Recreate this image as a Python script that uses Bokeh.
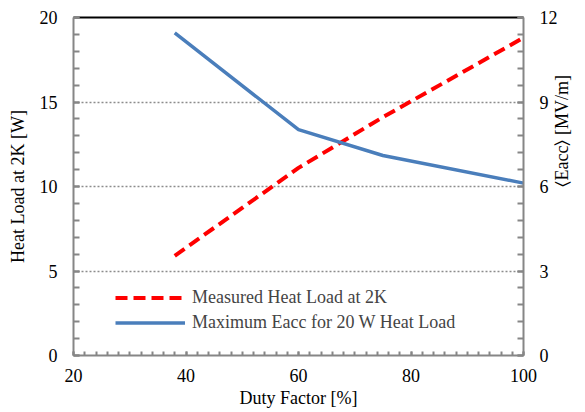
import math
from bokeh.plotting import figure
from bokeh.models import (LinearAxis, Range1d, Legend, LegendItem,
                          SingleIntervalTicker, FixedTicker)
from bokeh.embed import file_html
from bokeh.resources import INLINE

duty = [38, 60, 75, 100]
heat_load = [5.9, 11.1, 14.1, 18.8]
eacc_duty = [38, 60, 75, 100]
max_eacc = [11.45, 8.02, 7.1, 6.12]

FONT = "Liberation Serif"
AX = "#868686"

p = figure(width=585, height=412, output_backend="svg", toolbar_location=None,
           x_range=Range1d(20, 100), y_range=Range1d(0, 20),
           min_border_left=73, min_border_right=62, min_border_top=17, min_border_bottom=57)
p.outline_line_color = None
p.background_fill_color = "white"
p.extra_y_ranges = {"eacc": Range1d(0, 12)}

r1 = p.line(duty, heat_load, line_color="#ff0000", line_width=4, line_dash="12 6")
r2 = p.line(eacc_duty, max_eacc, y_range_name="eacc", line_color="#4a7ebb", line_width=3.5)

def style(ax):
    ax.axis_line_color = AX
    ax.axis_line_width = 2
    ax.major_tick_line_color = AX
    ax.minor_tick_line_color = AX
    ax.major_tick_line_width = 2
    ax.minor_tick_line_width = 2
    ax.major_tick_out = 0
    ax.minor_tick_out = 0
    ax.major_label_text_font = FONT
    ax.major_label_text_font_size = "18px"
    ax.major_label_text_color = "black"
    ax.axis_label_text_font = FONT
    ax.axis_label_text_font_size = "18px"
    ax.axis_label_text_font_style = "normal"
    ax.axis_label_text_color = "black"

xa = p.xaxis[0]
style(xa)
xa.ticker = SingleIntervalTicker(interval=20, num_minor_ticks=10)
xa.major_tick_in = 4
xa.minor_tick_in = 4
xa.major_label_standoff = 13
xa.axis_label = "Duty Factor [%]"
xa.axis_label_standoff = 3

ya = p.yaxis[0]
style(ya)
ya.ticker = SingleIntervalTicker(interval=5, num_minor_ticks=5)
ya.major_tick_in = 6
ya.minor_tick_in = 6
ya.major_label_standoff = 16
ya.axis_label = "Heat Load at 2K [W]"
ya.axis_label_standoff = 9

ra = LinearAxis(y_range_name="eacc", ticker=SingleIntervalTicker(interval=3, num_minor_ticks=5))
style(ra)
ra.major_tick_in = 6
ra.minor_tick_in = 6
ra.major_label_standoff = 16
ra.axis_label = "\u2329Eacc\u232a  [MV/m]"
ra.axis_label_standoff = 1
ra.axis_label_orientation = math.pi / 2
p.add_layout(ra, "right")

top = LinearAxis(ticker=FixedTicker(ticks=[]))
top.axis_line_color = "black"
top.axis_line_width = 2
top.major_tick_out = 0
top.major_tick_in = 0
top.minor_tick_out = 0
top.minor_tick_in = 0
top.major_label_text_font_size = "0px"
top.major_label_standoff = 0
p.add_layout(top, "above")

p.xgrid.grid_line_color = None
p.ygrid.ticker = SingleIntervalTicker(interval=5)
p.ygrid.grid_line_color = "#8c8c8c"
p.ygrid.grid_line_dash = "2 2"
p.ygrid.grid_line_width = 1.5

legend = Legend(items=[LegendItem(label="Measured Heat Load at 2K", renderers=[r1]),
                       LegendItem(label="Maximum Eacc for 20 W Heat Load", renderers=[r2])],
                location=(42, 20))
legend.border_line_color = None
legend.background_fill_alpha = 0
legend.label_text_font = FONT
legend.label_text_font_size = "18px"
legend.glyph_width = 70
legend.glyph_height = 25
legend.label_height = 25
legend.label_standoff = 7
legend.padding = 0
legend.spacing = 0
legend.margin = 0
p.add_layout(legend, "center")

open("out.html", "w").write(file_html(p, INLINE))
